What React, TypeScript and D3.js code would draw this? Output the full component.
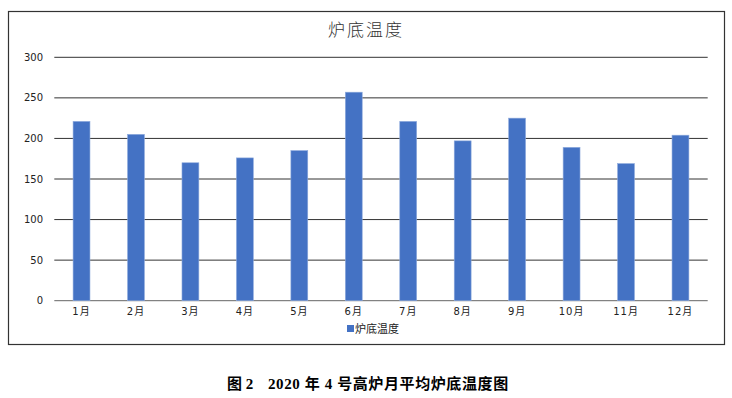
import React from "react";
import * as d3 from "d3";

const categories = ["1月", "2月", "3月", "4月", "5月", "6月", "7月", "8月", "9月", "10月", "11月", "12月"];
const values = [221, 205, 170, 176, 185, 257, 221, 197, 225, 189, 169, 204];
const yTicks = [0, 50, 100, 150, 200, 250, 300];
const title = "炉底温度";
const seriesName = "炉底温度";
const caption1 = "图 2";
const caption2 = "2020 年 4 号高炉月平均炉底温度图";

export default function App() {
  const W = 732, H = 398;
  const left = 54.3, right = 707.7, top = 57.3, bottom = 300.7;
  const x = d3.scaleBand<string>().domain(categories).range([left, right]).paddingInner(0.69).paddingOuter(0.345);
  const y = d3.scaleLinear().domain([0, 300]).range([bottom, top]);
  const sans = "'DejaVu Sans', 'Noto Sans CJK SC', sans-serif";
  return (
    <svg width={W} height={H} style={{ position: "absolute", left: 0, top: 0 }}>
      <rect x={0} y={0} width={W} height={H} fill="#fff" />
      <rect x={8.5} y={11.5} width={716} height={333} fill="#fff" stroke="#333" strokeWidth={1.2} />
      <text x={366} y={36} textAnchor="middle" fontFamily="'Noto Sans CJK SC', sans-serif" fontSize={17} fontWeight={300} letterSpacing={2} fill="#333">{title}</text>
      {yTicks.map((t) => (
        <g key={t}>
          <line x1={left} x2={right} y1={y(t)} y2={y(t)} stroke={t === 0 ? "#666" : "#333"} strokeWidth={1} />
          <text x={43} y={y(t)} dy="0.35em" textAnchor="end" fontFamily={sans} fontSize={10} fill="#222">{t}</text>
        </g>
      ))}
      {categories.map((c, i) => (
        <rect key={c} x={x(c)} y={y(values[i])} width={x.bandwidth()} height={bottom - y(values[i])} fill="#4472C4" stroke="#8eaadc" strokeWidth={0.6} />
      ))}
      {categories.map((c) => (
        <text key={c} x={(x(c) as number) + x.bandwidth() / 2} y={315} textAnchor="middle" fontFamily={sans} fontSize={10} letterSpacing={1} fill="#222">{c}</text>
      ))}
      <rect x={347} y={325} width={7} height={7} fill="#4472C4" />
      <text x={355} y={332.5} fontFamily="'Noto Sans CJK SC', sans-serif" fontSize={11} fill="#222">{seriesName}</text>
      <text x={227} y={389} fontFamily="'Liberation Serif', 'Noto Sans CJK SC', serif" fontSize={15} fontWeight="bold" fill="#000">{caption1}</text>
      <text x={268} y={389} fontFamily="'Liberation Serif', 'Noto Sans CJK SC', serif" fontSize={15} fontWeight="bold" letterSpacing={0.6} fill="#000">{caption2}</text>
    </svg>
  );
}
